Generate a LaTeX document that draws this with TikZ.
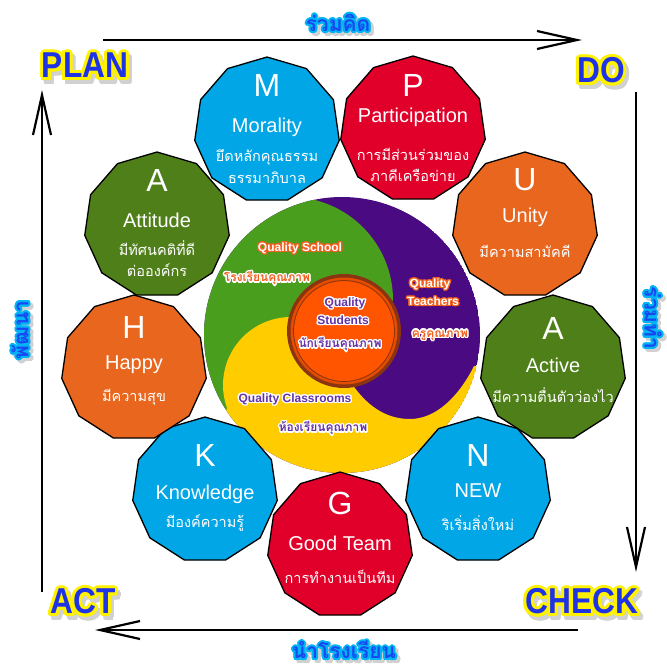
\documentclass[tikz,border=0pt]{standalone}
\usepackage{fontspec}
\setmainfont{Liberation Sans}
\newfontfamily\thai[Script=Thai]{Loma}
\usepackage{contour}
\contournumber{16}
\usetikzlibrary{shapes.geometric,arrows.meta,calc}
\definecolor{cblue}{HTML}{00A6E6}
\definecolor{cred}{HTML}{E0002A}
\definecolor{corange}{HTML}{E8661E}
\definecolor{colive}{HTML}{4F7F19}
\definecolor{igreen}{HTML}{4A9E1E}
\definecolor{ipurple}{HTML}{4A0A82}
\definecolor{iyellow}{HTML}{FFCC00}
\definecolor{iorange}{HTML}{FF5500}
\definecolor{idark}{HTML}{8A3412}
\definecolor{lblue}{HTML}{1E32E6}
\definecolor{tblue}{HTML}{1A48F0}
\definecolor{tcyan}{HTML}{00B4F5}
\definecolor{qorange}{HTML}{F2601E}
\definecolor{qpurple}{HTML}{6232A6}
\tikzset{
  poly/.style={regular polygon, regular polygon sides=11, minimum size=146pt, inner sep=0pt, draw=black, line width=1.3pt},
  bigl/.style={text=white, inner sep=0pt, font=\fontsize{32}{32}\selectfont},
  word/.style={text=white, inner sep=0pt, font=\fontsize{20}{20}\selectfont},
  th/.style={text=white, inner sep=0pt, font=\thai\fontsize{14.5}{14.5}\selectfont},
  qlat/.style={inner sep=0pt, font=\fontsize{12}{12}\selectfont\bfseries},
  qth/.style={inner sep=0pt, font=\thai\fontsize{12}{12}\selectfont\bfseries},
  pdca/.style={inner sep=0pt, text=lblue, font=\fontsize{36}{36}\selectfont\bfseries},
  pdcashadow/.style={inner sep=0pt, text=black!18, font=\fontsize{36}{36}\selectfont\bfseries},
  alab/.style={inner sep=0pt, text=tblue, font=\thai\fontsize{21}{21}\selectfont\bfseries},
  alabshadow/.style={inner sep=0pt, text=black!18, font=\thai\fontsize{21}{21}\selectfont\bfseries},
  arr/.style={line width=2.2pt, -{Straight Barb[length=40pt,width=18pt,line width=2.2pt]}}
}
\begin{document}
\begin{tikzpicture}[x=1pt,y=-1pt]
\useasboundingbox (0,0) rectangle (667,667);
\fill[white] (0,0) rectangle (667,667);

% ---------- central circle ----------
\begin{scope}
\clip (342,335) circle[radius=138pt];
\fill[ipurple] (342,335) circle[radius=138pt];
\fill[igreen] (150,185) -- (290,185) -- (290,197) .. controls (346.9,197) and (393,243.1) .. (393,300) -- (380,320) -- (300,360) -- (200,460) -- (150,460) -- cycle;
\fill[iyellow] (215,520) -- (215,430) -- (227.1,408.3) .. controls (218.8,385.5) and (223.3,359.9) .. (238.9,341.3) .. controls (254.5,322.7) and (278.9,313.8) .. (302.8,318) -- (345,335) -- (352,384) .. controls (370,410) and (390,419) .. (410,419) .. controls (435,419) and (458,398) .. (474,366) -- (520,366) -- (520,520) -- cycle;
\end{scope}
\fill[idark] (344,331) circle[radius=57pt];
\fill[iorange!90!black] (344,331) circle[radius=53.5pt];
\fill[iorange] (344,331) circle[radius=50pt];
\draw[idark, line width=0.8pt] (344,331) circle[radius=50.5pt];

% centre texts
\node[qlat, text=white] (qs1) at (300,249) {\contourlength{1.3pt}\contour{qorange}{Quality School}};
\node[qth, text=qorange] (qs2) at (267,279) {\contourlength{1.3pt}\contour{white}{โรงเรียนคุณภาพ}};
\node[qlat, text=white] (qt1) at (430,285) {\contourlength{1.3pt}\contour{qorange}{Quality}};
\node[qlat, text=white] (qt2) at (433,302) {\contourlength{1.3pt}\contour{qorange}{Teachers}};
\node[qth, text=qorange] (qt3) at (440,336) {\contourlength{1.3pt}\contour{white}{ครูคุณภาพ}};
\node[qlat, text=qpurple] (qu1) at (345,304) {\contourlength{1.3pt}\contour{white}{Quality}};
\node[qlat, text=qpurple] (qu2) at (343,321) {\contourlength{1.3pt}\contour{white}{Students}};
\node[qth, text=qpurple] (qu3) at (340,345) {\contourlength{1.3pt}\contour{white}{นักเรียนคุณภาพ}};
\node[qlat, text=qpurple] (qc1) at (295,400) {\contourlength{1.3pt}\contour{white}{Quality Classrooms}};
\node[qth, text=qpurple] (qc2) at (323,429) {\contourlength{1.3pt}\contour{white}{ห้องเรียนคุณภาพ}};

% ---------- polygons ----------
\node[poly, fill=cblue] (pM) at (267,130) {};
\node[bigl] (pM1) at ($(pM)+(0,-45)$) {M};
\node[word] (pM2) at ($(pM)+(0,-3)$) {Morality};
\node[th] (pM3) at ($(pM)+(0,27)$) {ยึดหลักคุณธรรม};
\node[th] (pM4) at ($(pM)+(0,48)$) {ธรรมาภิบาล};

\node[poly, fill=cred] (pP) at (413,129) {};
\node[bigl] (pP1) at ($(pP)+(0,-44)$) {P};
\node[word] (pP2) at ($(pP)+(0,-12)$) {Participation};
\node[th] (pP3) at ($(pP)+(0,25)$) {การมีส่วนร่วมของ};
\node[th] (pP4) at ($(pP)+(0,46)$) {ภาคีเครือข่าย};

\node[poly, fill=corange] (pU) at (525,225) {};
\node[bigl] (pU1) at ($(pU)+(0,-45)$) {U};
\node[word] (pU2) at ($(pU)+(0,-8)$) {Unity};
\node[th] (pU3) at ($(pU)+(0,26)$) {มีความสามัคคี};

\node[poly, fill=colive] (pAc) at (553,368) {};
\node[bigl] (pAc1) at ($(pAc)+(0,-40)$) {A};
\node[word] (pAc2) at ($(pAc)+(0,-3)$) {Active};
\node[th] (pAc3) at ($(pAc)+(0,27)$) {มีความตื่นตัวว่องไว};

\node[poly, fill=cblue] (pN) at (478,490) {};
\node[bigl] (pN1) at ($(pN)+(0,-35)$) {N};
\node[word] (pN2) at ($(pN)+(0,1)$) {NEW};
\node[th] (pN3) at ($(pN)+(0,33)$) {ริเริ่มสิ่งใหม่};

\node[poly, fill=cred] (pG) at (340,545) {};
\node[bigl] (pG1) at ($(pG)+(0,-42)$) {G};
\node[word] (pG2) at ($(pG)+(0,-2)$) {Good Team};
\node[th] (pG3) at ($(pG)+(0,32)$) {การทำงานเป็นทีม};

\node[poly, fill=cblue] (pK) at (205,490) {};
\node[bigl] (pK1) at ($(pK)+(0,-35)$) {K};
\node[word] (pK2) at ($(pK)+(0,4)$) {Knowledge};
\node[th] (pK3) at ($(pK)+(0,33)$) {มีองค์ความรู้};

\node[poly, fill=corange] (pH) at (134,368) {};
\node[bigl] (pH1) at ($(pH)+(0,-41)$) {H};
\node[word] (pH2) at ($(pH)+(0,-3)$) {Happy};
\node[th] (pH3) at ($(pH)+(0,29)$) {มีความสุข};

\node[poly, fill=colive] (pAt) at (157,225) {};
\node[bigl] (pAt1) at ($(pAt)+(0,-45)$) {A};
\node[word] (pAt2) at ($(pAt)+(0,-5)$) {Attitude};
\node[th] (pAt3) at ($(pAt)+(0,23)$) {มีทัศนคติที่ดี};
\node[th] (pAt4) at ($(pAt)+(0,45)$) {ต่อองค์กร};

% ---------- PDCA arrows ----------
\coordinate (aT1) at (103,40);  \coordinate (aT2) at (582,40);
\coordinate (aR1) at (636,92);  \coordinate (aR2) at (636,572);
\coordinate (aB1) at (578,630); \coordinate (aB2) at (95,630);
\coordinate (aL1) at (42,592);  \coordinate (aL2) at (42,90);
\draw[arr] (aT1) -- (aT2);
\draw[arr] (aR1) -- (aR2);
\draw[arr] (aB1) -- (aB2);
\draw[arr] (aL1) -- (aL2);

% arrow labels
\node[alabshadow] (sT) at (341,27) {\contourlength{2pt}\contour{black!18}{ร่วมคิด}};
\node[alab] (lT) at (338,24) {\contourlength{2pt}\contour{tcyan}{ร่วมคิด}};
\node[alabshadow, rotate=-90] (sR) at (655,321) {\contourlength{2pt}\contour{black!18}{ร่วมทำ}};
\node[alab, rotate=-90] (lR) at (652,318) {\contourlength{2pt}\contour{tcyan}{ร่วมทำ}};
\node[alabshadow] (sB) at (347,654) {\contourlength{2pt}\contour{black!18}{นำโรงเรียน}};
\node[alab] (lB) at (344,651) {\contourlength{2pt}\contour{tcyan}{นำโรงเรียน}};
\node[alabshadow, rotate=90] (sL) at (24,333) {\contourlength{2pt}\contour{black!18}{พัฒนา}};
\node[alab, rotate=90] (lL) at (21,330) {\contourlength{2pt}\contour{tcyan}{พัฒนา}};

% PDCA words
\node[pdcashadow] (sPlan) at (88,71) {\contourlength{3pt}\contour{black!18}{\scalebox{0.88}[1]{PLAN}}};
\node[pdca] (plan) at (85,67) {\contourlength{3pt}\contour{yellow}{\scalebox{0.88}[1]{PLAN}}};
\node[pdcashadow] (sDo) at (604,76) {\contourlength{3pt}\contour{black!18}{\scalebox{0.88}[1]{DO}}};
\node[pdca] (do) at (601,72) {\contourlength{3pt}\contour{yellow}{\scalebox{0.88}[1]{DO}}};
\node[pdcashadow] (sAct) at (86,607) {\contourlength{3pt}\contour{black!18}{\scalebox{0.88}[1]{ACT}}};
\node[pdca] (act) at (83,603) {\contourlength{3pt}\contour{yellow}{\scalebox{0.88}[1]{ACT}}};
\node[pdcashadow] (sCheck) at (585,607) {\contourlength{3pt}\contour{black!18}{\scalebox{0.88}[1]{CHECK}}};
\node[pdca] (check) at (582,603) {\contourlength{3pt}\contour{yellow}{\scalebox{0.88}[1]{CHECK}}};
\end{tikzpicture}
\end{document}
